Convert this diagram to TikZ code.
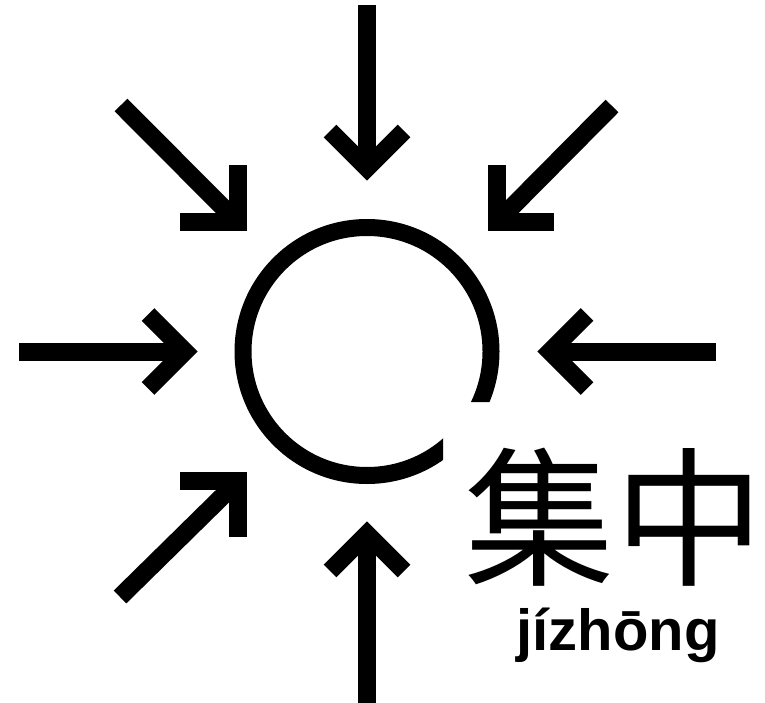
\documentclass[tikz,border=0pt]{standalone}
\usepackage{fontspec}
\usepackage{tikz}
\usetikzlibrary{calc, positioning}
\setmainfont{Liberation Sans}
\newfontfamily\cjk{Noto Sans CJK SC}
\newfontfamily\pinyinfont{Liberation Sans}

\begin{document}
\begin{tikzpicture}[x=1pt, y=-1pt,
		shaft/.style={line width=18pt},
		barb/.style={line width=18pt, line join=miter},
		ring/.style={line width=17pt}]
	\useasboundingbox (0,0) rectangle (765,703);
	\coordinate (ctr) at (367,351.5);
	% ring, with the lower right corner cut away
	\begin{scope}
		\clip (0,0) -- (765,0) -- (765,402) -- (443,402) -- (443,703) -- (0,703) -- cycle;
		\draw[ring] (ctr) circle[radius=124];
	\end{scope}
	% straight arrows
	\coordinate (tN) at (367,168);
	\draw[shaft] (367,5) -- (tN);
	\draw[barb] (330,131) -- (tN) -- (404,131);
	\coordinate (tS) at (367,534);
	\draw[shaft] (367,703) -- (tS);
	\draw[barb] (330,571) -- (tS) -- (404,571);
	\coordinate (tW) at (185,351.5);
	\draw[shaft] (19,351.5) -- (tW);
	\draw[barb] (148,314.5) -- (tW) -- (148,388.5);
	\coordinate (tE) at (550,351.5);
	\draw[shaft] (716,351.5) -- (tE);
	\draw[barb] (587,314.5) -- (tE) -- (587,388.5);
	% diagonal arrows with square heads
	\coordinate (tNW) at (238,222.5);
	\draw[shaft] (121,105) -- (tNW);
	\draw[barb] (238,165) -- (tNW) -- (180,222.5);
	\coordinate (tNE) at (496.5,222.5);
	\draw[shaft] (612,106) -- (tNE);
	\draw[barb] (496.5,165) -- (tNE) -- (554,222.5);
	\coordinate (tSW) at (238,481);
	\draw[shaft] (120,597) -- (tSW);
	\draw[barb] (238,537) -- (tSW) -- (180,481);
	% word and reading
	\node[font=\cjk\fontsize{150}{150}\selectfont, inner sep=0pt] (hanzi) at (614,517) {集中};
	\node[font=\pinyinfont\bfseries\fontsize{58}{58}\selectfont, inner sep=0pt, anchor=base] (pinyin) at (618,650) {jízhōng};
\end{tikzpicture}
\end{document}
